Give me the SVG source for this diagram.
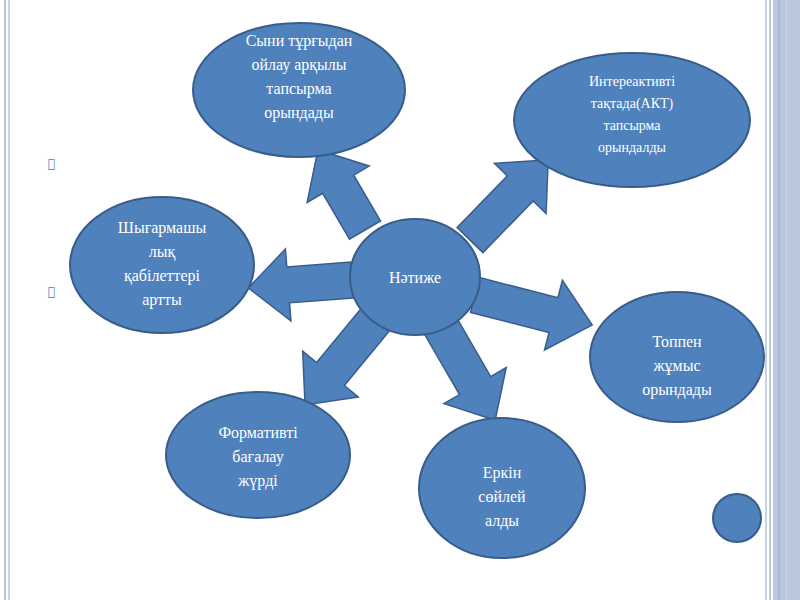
<svg xmlns="http://www.w3.org/2000/svg" width="800" height="600" viewBox="0 0 800 600">
<style>
.n{fill:#4f81bd;stroke:#385d8a;stroke-width:2}
.a{fill:#4f81bd;stroke:#385d8a;stroke-width:1.5}
.t{fill:#fff;font-family:"Liberation Serif",serif;font-size:16px;text-anchor:middle}
.s{font-size:14px}
.b{fill:#4f81bd;font-family:"DejaVu Sans",sans-serif;font-size:12px}
</style>
<rect width="800" height="600" fill="#fff"/>
<rect x="4" y="0" width="2" height="600" fill="#b8c6de"/>
<rect x="8" y="0" width="2" height="600" fill="#c8d3e6"/>
<rect x="765" y="0" width="2" height="600" fill="#c8d3e6"/>
<rect x="769" y="0" width="2" height="600" fill="#b8c6de"/>
<rect x="773" y="0" width="27" height="600" fill="#b9c7df"/>
<rect x="778" y="0" width="2" height="600" fill="#a9bad7"/>
<rect x="786" y="0" width="1" height="600" fill="#c9d4e7"/>
<text class="b" x="48" y="168">&#xF0A7;</text>
<text class="b" x="48" y="296">&#xF0A7;</text>
<g id="connectors">
<g transform="translate(365,230) rotate(-120.4)"><polygon class="a" points="0,-18 53,-18 53,-36 93,0 53,36 53,18 0,18"/></g>
<g transform="translate(470,240) rotate(-45.7)"><polygon class="a" points="0,-18 72,-18 72,-36 112,0 72,36 72,18 0,18"/></g>
<g transform="translate(352,280) rotate(175.6)"><polygon class="a" points="0,-18 64,-18 64,-36 104,0 64,36 64,18 0,18"/></g>
<g transform="translate(475,295) rotate(14.4)"><polygon class="a" points="0,-18 81,-18 81,-36 121,0 81,36 81,18 0,18"/></g>
<g transform="translate(375,320) rotate(129.5)"><polygon class="a" points="0,-18 70,-18 70,-36 110,0 70,36 70,18 0,18"/></g>
<g transform="translate(440,325) rotate(59.9)"><polygon class="a" points="0,-18 70,-18 70,-36 110,0 70,36 70,18 0,18"/></g>
</g>
<g id="center"><ellipse class="n" cx="415" cy="277" rx="65" ry="58"/><text class="t" x="415" y="283">Нәтиже</text></g>
<g id="n1"><ellipse class="n" cx="299" cy="90" rx="106" ry="67"/><text class="t" x="299" y="46">Сыни тұрғыдан</text><text class="t" x="299" y="70">ойлау арқылы</text><text class="t" x="299" y="94">тапсырма</text><text class="t" x="299" y="118">орындады</text></g>
<g id="n2"><ellipse class="n" cx="632" cy="120" rx="118" ry="67"/><text class="t s" x="632" y="86">Интереактивті</text><text class="t s" x="632" y="108">тақтада(АКТ)</text><text class="t s" x="632" y="130">тапсырма</text><text class="t s" x="632" y="152">орындалды</text></g>
<g id="n3"><ellipse class="n" cx="162" cy="265" rx="92" ry="68"/><text class="t" x="162" y="233">Шығармашы</text><text class="t" x="162" y="257">лық</text><text class="t" x="162" y="281">қабілеттері</text><text class="t" x="162" y="305">артты</text></g>
<g id="n4"><ellipse class="n" cx="677" cy="357" rx="87" ry="65"/><text class="t" x="677" y="347">Топпен</text><text class="t" x="677" y="371">жұмыс</text><text class="t" x="677" y="395">орындады</text></g>
<g id="n5"><ellipse class="n" cx="258" cy="455" rx="92" ry="63"/><text class="t" x="258" y="438">Формативті</text><text class="t" x="258" y="462">бағалау</text><text class="t" x="258" y="486">жүрді</text></g>
<g id="n6"><ellipse class="n" cx="502" cy="488" rx="83" ry="70"/><text class="t" x="502" y="478">Еркін</text><text class="t" x="502" y="502">сөйлей</text><text class="t" x="502" y="526">алды</text></g>
<g id="dot"><circle class="n" cx="737" cy="518" r="24"/></g>
</svg>
